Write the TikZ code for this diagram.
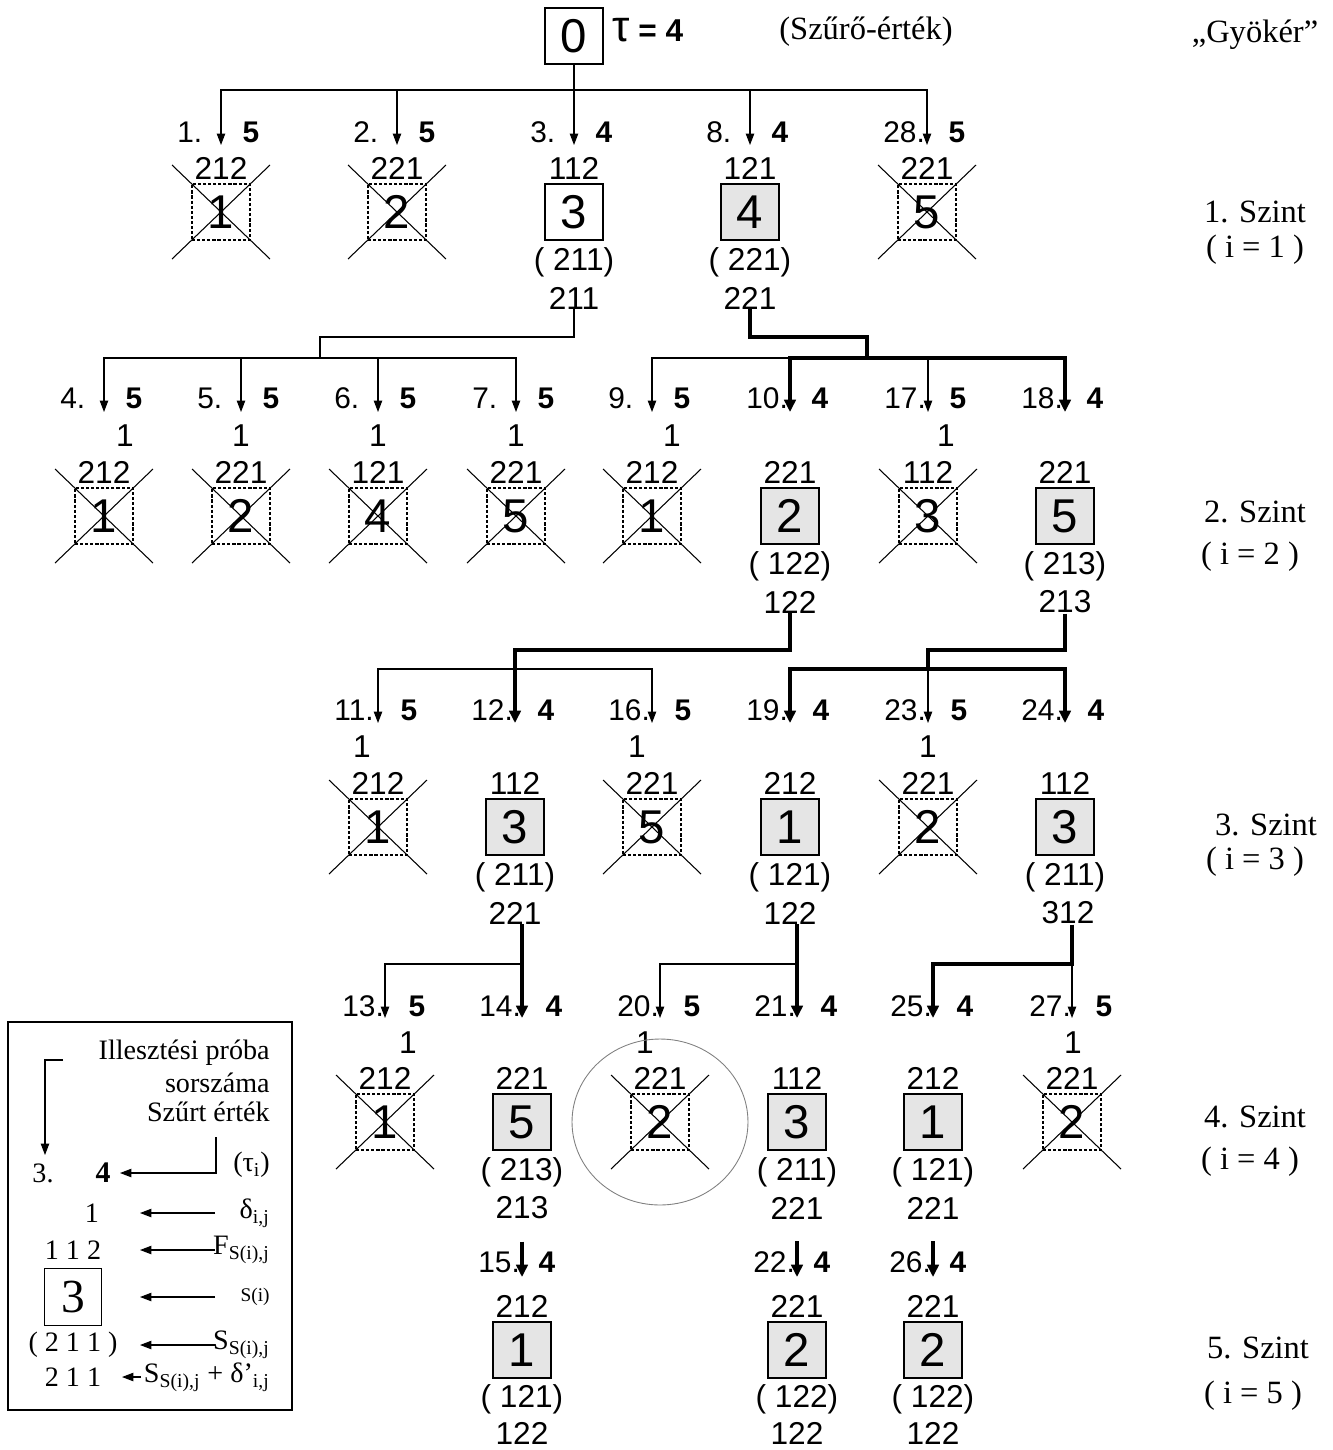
\documentclass[tikz,border=0pt]{standalone}
\usepackage{fontspec}
\setmainfont{Liberation Serif}
\setsansfont{Liberation Sans}
\usetikzlibrary{arrows.meta}

\begin{document}
\begin{tikzpicture}[
    x = 0.02cm, y = -0.02cm,
    box/.style = {draw, line width = 0.6pt, minimum width = 1.16cm, minimum height = 1.12cm, inner sep = 0pt, font = \sffamily\fontsize{27}{30}\selectfont},
    kept/.style = {box},
    best/.style = {box, fill = gray!20, line width = 1.6pt},
    cut/.style = {box, dash pattern = on 1.8pt off 1.1pt},
    num/.style = {anchor = west, inner sep = 0pt, font = \sffamily\fontsize{17}{19}\selectfont},
    val/.style = {inner sep = 0pt, font = \sffamily\bfseries\fontsize{17}{19}\selectfont},
    trip/.style = {inner sep = 0pt, font = \sffamily\fontsize{18}{20}\selectfont},
    lvl/.style = {inner sep = 0pt, font = \fontsize{18.5}{22}\selectfont},
    lgd/.style = {inner sep = 0pt, font = \fontsize{16}{18}\selectfont},
    arr/.style = {line width = 0.6pt, -{Triangle[length = 6.5pt, width = 4.8pt]}},
    hot/.style = {line width = 2.6pt, -{Triangle[length = 7pt, width = 6.5pt]}},
    ]
    \useasboundingbox (0,0) rectangle (1332,1450);

    \node[kept] (root) at (574,36) {0};
    \node[anchor = west, inner sep = 0pt, font = \sffamily\bfseries\fontsize{18}{20}\selectfont] (tau) at (612,30) {{\mdseries\fontsize{25}{26}\selectfont τ}\hspace{5pt}= 4};
    \node[lvl] (filt) at (866,32) {(Szűrő-érték)};
    \node[lvl] (gyok) at (1255,35) {„Gyökér”};

    \node[lvl] (s1) at (1255,212) {1. Szint};
    \node[lvl] (i1) at (1255,250) {( i = 1 )};
    \node[lvl] (s2) at (1255,512) {2. Szint};
    \node[lvl] (i2) at (1250,557) {( i = 2 )};
    \node[lvl] (s3) at (1266,825) {3. Szint};
    \node[lvl] (i3) at (1255,862) {( i = 3 )};
    \node[lvl] (s4) at (1255,1117) {4. Szint};
    \node[lvl] (i4) at (1250,1162) {( i = 4 )};
    \node[lvl] (s5) at (1258,1348) {5. Szint};
    \node[lvl] (i5) at (1253,1396) {( i = 5 )};

    \node[cut] (n1) at (221,212) {1};
    \node[trip] (n1f) at (221,168) {212};
    \node[num] (l1) at (177,132) {1.};
    \node[val] (v1) at (251,132) {5};
    \coordinate (t1) at (221,145);

    \node[cut] (n2) at (397,212) {2};
    \node[trip] (n2f) at (397,168) {221};
    \node[num] (l2) at (353,132) {2.};
    \node[val] (v2) at (427,132) {5};
    \coordinate (t2) at (397,145);

    \node[kept] (n3) at (574,212) {3};
    \node[trip] (n3f) at (574,168) {112};
    \node[trip] (n3s) at (574,262) {( 211)};
    \node[trip] (n3c) at (574,298) {211};
    \node[num] (l3) at (530,132) {3.};
    \node[val] (v3) at (604,132) {4};
    \coordinate (t3) at (574,145);

    \node[best] (n8) at (750,212) {4};
    \node[trip] (n8f) at (750,168) {121};
    \node[trip] (n8s) at (750,262) {( 221)};
    \node[trip] (n8c) at (750,298) {221};
    \node[num] (l8) at (706,132) {8.};
    \node[val] (v8) at (780,132) {4};
    \coordinate (t8) at (750,145);

    \node[cut] (n28) at (927,212) {5};
    \node[trip] (n28f) at (927,168) {221};
    \node[num] (l28) at (883,132) {28.};
    \node[val] (v28) at (957,132) {5};
    \coordinate (t28) at (927,145);

    \node[cut] (n4) at (104,516) {1};
    \node[trip] (n4f) at (104,472) {212};
    \node[trip] (d4) at (125,436) {1};
    \node[num] (l4) at (60,398) {4.};
    \node[val] (v4) at (134,398) {5};
    \coordinate (t4) at (104,412);

    \node[cut] (n5) at (241,516) {2};
    \node[trip] (n5f) at (241,472) {221};
    \node[trip] (d5) at (241,436) {1};
    \node[num] (l5) at (197,398) {5.};
    \node[val] (v5) at (271,398) {5};
    \coordinate (t5) at (241,412);

    \node[cut] (n6) at (378,516) {4};
    \node[trip] (n6f) at (378,472) {121};
    \node[trip] (d6) at (378,436) {1};
    \node[num] (l6) at (334,398) {6.};
    \node[val] (v6) at (408,398) {5};
    \coordinate (t6) at (378,412);

    \node[cut] (n7) at (516,516) {5};
    \node[trip] (n7f) at (516,472) {221};
    \node[trip] (d7) at (516,436) {1};
    \node[num] (l7) at (472,398) {7.};
    \node[val] (v7) at (546,398) {5};
    \coordinate (t7) at (516,412);

    \node[cut] (n9) at (652,516) {1};
    \node[trip] (n9f) at (652,472) {212};
    \node[trip] (d9) at (672,436) {1};
    \node[num] (l9) at (608,398) {9.};
    \node[val] (v9) at (682,398) {5};
    \coordinate (t9) at (652,412);

    \node[best] (n10) at (790,516) {2};
    \node[trip] (n10f) at (790,472) {221};
    \node[trip] (n10s) at (790,566) {( 122)};
    \node[trip] (n10c) at (790,602) {122};
    \node[num] (l10) at (746,398) {10.};
    \node[val] (v10) at (820,398) {4};
    \coordinate (t10) at (790,412);

    \node[cut] (n17) at (928,516) {3};
    \node[trip] (n17f) at (928,472) {112};
    \node[trip] (d17) at (946,436) {1};
    \node[num] (l17) at (884,398) {17.};
    \node[val] (v17) at (958,398) {5};
    \coordinate (t17) at (928,412);

    \node[best] (n18) at (1065,516) {5};
    \node[trip] (n18f) at (1065,472) {221};
    \node[trip] (n18s) at (1065,566) {( 213)};
    \node[trip] (n18c) at (1065,602) {213};
    \node[num] (l18) at (1021,398) {18.};
    \node[val] (v18) at (1095,398) {4};
    \coordinate (t18) at (1065,412);

    \node[cut] (n11) at (378,827) {1};
    \node[trip] (n11f) at (378,783) {212};
    \node[trip] (d11) at (362,747) {1};
    \node[num] (l11) at (334,710) {11.};
    \node[val] (v11) at (409,710) {5};
    \coordinate (t11) at (378,723);

    \node[best] (n12) at (515,827) {3};
    \node[trip] (n12f) at (515,783) {112};
    \node[trip] (n12s) at (515,877) {( 211)};
    \node[trip] (n12c) at (515,913) {221};
    \node[num] (l12) at (471,710) {12.};
    \node[val] (v12) at (546,710) {4};
    \coordinate (t12) at (515,723);

    \node[cut] (n16) at (652,827) {5};
    \node[trip] (n16f) at (652,783) {221};
    \node[trip] (d16) at (637,747) {1};
    \node[num] (l16) at (608,710) {16.};
    \node[val] (v16) at (683,710) {5};
    \coordinate (t16) at (652,723);

    \node[best] (n19) at (790,827) {1};
    \node[trip] (n19f) at (790,783) {212};
    \node[trip] (n19s) at (790,877) {( 121)};
    \node[trip] (n19c) at (790,913) {122};
    \node[num] (l19) at (746,710) {19.};
    \node[val] (v19) at (821,710) {4};
    \coordinate (t19) at (790,723);

    \node[cut] (n23) at (928,827) {2};
    \node[trip] (n23f) at (928,783) {221};
    \node[trip] (d23) at (928,747) {1};
    \node[num] (l23) at (884,710) {23.};
    \node[val] (v23) at (959,710) {5};
    \coordinate (t23) at (928,723);

    \node[best] (n24) at (1065,827) {3};
    \node[trip] (n24f) at (1065,783) {112};
    \node[trip] (n24s) at (1065,877) {( 211)};
    \node[trip] (n24c) at (1068,913) {312};
    \node[num] (l24) at (1021,710) {24.};
    \node[val] (v24) at (1096,710) {4};
    \coordinate (t24) at (1065,723);

    \node[cut] (n13) at (385,1122) {1};
    \node[trip] (n13f) at (385,1078) {212};
    \node[trip] (d13) at (408,1043) {1};
    \node[num] (l13) at (342,1006) {13.};
    \node[val] (v13) at (417,1006) {5};
    \coordinate (t13) at (385,1018);

    \node[best] (n14) at (522,1122) {5};
    \node[trip] (n14f) at (522,1078) {221};
    \node[trip] (n14s) at (522,1172) {( 213)};
    \node[trip] (n14c) at (522,1208) {213};
    \node[num] (l14) at (479,1006) {14.};
    \node[val] (v14) at (554,1006) {4};
    \coordinate (t14) at (522,1018);

    \node[cut] (n20) at (660,1122) {2};
    \node[trip] (n20f) at (660,1078) {221};
    \node[trip] (d20) at (645,1043) {1};
    \node[num] (l20) at (617,1006) {20.};
    \node[val] (v20) at (692,1006) {5};
    \coordinate (t20) at (660,1018);

    \node[best] (n21) at (797,1122) {3};
    \node[trip] (n21f) at (797,1078) {112};
    \node[trip] (n21s) at (797,1172) {( 211)};
    \node[trip] (n21c) at (797,1208) {221};
    \node[num] (l21) at (754,1006) {21.};
    \node[val] (v21) at (829,1006) {4};
    \coordinate (t21) at (797,1018);

    \node[best] (n25) at (933,1122) {1};
    \node[trip] (n25f) at (933,1078) {212};
    \node[trip] (n25s) at (933,1172) {( 121)};
    \node[trip] (n25c) at (933,1208) {221};
    \node[num] (l25) at (890,1006) {25.};
    \node[val] (v25) at (965,1006) {4};
    \coordinate (t25) at (933,1018);

    \node[cut] (n27) at (1072,1122) {2};
    \node[trip] (n27f) at (1072,1078) {221};
    \node[trip] (d27) at (1073,1043) {1};
    \node[num] (l27) at (1029,1006) {27.};
    \node[val] (v27) at (1104,1006) {5};
    \coordinate (t27) at (1072,1018);

    \node[best] (n15) at (522,1350) {1};
    \node[trip] (n15f) at (522,1306) {212};
    \node[trip] (n15s) at (522,1399) {( 121)};
    \node[trip] (n15c) at (522,1433) {122};
    \node[num] (l15) at (478,1262) {15.};
    \node[val] (v15) at (547,1262) {4};
    \coordinate (t15) at (522,1277);

    \node[best] (n22) at (797,1350) {2};
    \node[trip] (n22f) at (797,1306) {221};
    \node[trip] (n22s) at (797,1399) {( 122)};
    \node[trip] (n22c) at (797,1433) {122};
    \node[num] (l22) at (753,1262) {22.};
    \node[val] (v22) at (822,1262) {4};
    \coordinate (t22) at (797,1277);

    \node[best] (n26) at (933,1350) {2};
    \node[trip] (n26f) at (933,1306) {221};
    \node[trip] (n26s) at (933,1399) {( 122)};
    \node[trip] (n26c) at (933,1433) {122};
    \node[num] (l26) at (889,1262) {26.};
    \node[val] (v26) at (958,1262) {4};
    \coordinate (t26) at (933,1277);

    \draw[line width = 0.6pt] (n1.center) +(-49,-47) -- +(49,47) +(-49,47) -- +(49,-47);
    \draw[line width = 0.6pt] (n2.center) +(-49,-47) -- +(49,47) +(-49,47) -- +(49,-47);
    \draw[line width = 0.6pt] (n28.center) +(-49,-47) -- +(49,47) +(-49,47) -- +(49,-47);
    \draw[line width = 0.6pt] (n4.center) +(-49,-47) -- +(49,47) +(-49,47) -- +(49,-47);
    \draw[line width = 0.6pt] (n5.center) +(-49,-47) -- +(49,47) +(-49,47) -- +(49,-47);
    \draw[line width = 0.6pt] (n6.center) +(-49,-47) -- +(49,47) +(-49,47) -- +(49,-47);
    \draw[line width = 0.6pt] (n7.center) +(-49,-47) -- +(49,47) +(-49,47) -- +(49,-47);
    \draw[line width = 0.6pt] (n9.center) +(-49,-47) -- +(49,47) +(-49,47) -- +(49,-47);
    \draw[line width = 0.6pt] (n17.center) +(-49,-47) -- +(49,47) +(-49,47) -- +(49,-47);
    \draw[line width = 0.6pt] (n11.center) +(-49,-47) -- +(49,47) +(-49,47) -- +(49,-47);
    \draw[line width = 0.6pt] (n16.center) +(-49,-47) -- +(49,47) +(-49,47) -- +(49,-47);
    \draw[line width = 0.6pt] (n23.center) +(-49,-47) -- +(49,47) +(-49,47) -- +(49,-47);
    \draw[line width = 0.6pt] (n13.center) +(-49,-47) -- +(49,47) +(-49,47) -- +(49,-47);
    \draw[line width = 0.6pt] (n20.center) +(-49,-47) -- +(49,47) +(-49,47) -- +(49,-47);
    \draw[line width = 0.6pt] (n27.center) +(-49,-47) -- +(49,47) +(-49,47) -- +(49,-47);
    \draw[gray, line width = 0.5pt] (n20.center) ellipse [x radius = 1.76cm, y radius = 1.66cm];

    \draw[arr] (root.south) |- (221,90) -- (t1);
    \draw[arr] (root.south) |- (397,90) -- (t2);
    \draw[arr] (root.south) -- (t3);
    \draw[arr] (root.south) |- (750,90) -- (t8);
    \draw[arr] (root.south) |- (927,90) -- (t28);

    \draw[arr] (n3c.south) |- (320,337) -- (320,358) -| (t4);
    \draw[arr] (320,358) -| (t5);
    \draw[arr] (320,358) -| (t6);
    \draw[arr] (320,358) -| (t7);
    \draw[arr] (790,358) -| (t9);
    \draw[hot] (n8c.south) |- (867,337) -- (867,358) -| (t10);
    \draw[hot] (867,358) -| (t18);
    \draw[arr] (928,358) -- (t17);

    \draw[hot] (n10c.south) |- (515,650) -- (t12);
    \draw[arr] (515,669) -| (t11);
    \draw[arr] (515,669) -| (t16);
    \draw[hot] (n18c.south) |- (928,650) -- (928,669) -| (t19);
    \draw[hot] (928,669) -| (t24);
    \draw[arr] (928,669) -- (t23);

    \draw[hot] (t14 |- n12c.south) -- (t14);
    \draw[arr] (t14 |- 0,964) -| (t13);
    \draw[hot] (t21 |- n19c.south) -- (t21);
    \draw[arr] (t21 |- 0,964) -| (t20);
    \draw[hot] (t27 |- n24c.south) |- (933,964) -- (t25);
    \draw[arr] (t27 |- 0,964) -- (t27);

    \draw[hot] (n14c.south) ++(0,22) -- (t15);
    \draw[hot] (n21c.south) ++(0,22) -- (t22);
    \draw[hot] (n25c.south) ++(0,22) -- (t26);

    \draw[line width = 0.6pt] (8,1022) rectangle (292,1410);
    \node[lgd, anchor = east] (h1) at (270,1053) {Illesztési próba};
    \node[lgd, anchor = east] (h2) at (270,1083) {sorszáma};
    \node[lgd, anchor = east] (h3) at (270,1112) {Szűrt érték};
    \node[lgd, anchor = east] (h4) at (270,1165) {(τ\textsubscript{i})};
    \node[lgd, anchor = east] (h5) at (270,1213) {δ\textsubscript{i,j}};
    \node[lgd, anchor = east] (h6) at (270,1250) {F\textsubscript{S(i),j}};
    \node[lgd, anchor = east, font = \fontsize{11}{13}\selectfont] (h7) at (270,1297) {S(i)};
    \node[lgd, anchor = east] (h8) at (270,1345) {S\textsubscript{S(i),j}};
    \node[lgd, anchor = east] (h9) at (270,1377) {S\textsubscript{S(i),j} + δ'\textsubscript{i,j}};

    \node[lgd] (g3) at (43,1173) {3.};
    \node[lgd, font = \bfseries\fontsize{17}{19}\selectfont] (g4) at (103,1173) {4};
    \node[lgd] (gd) at (92,1213) {1};
    \node[lgd] (gf) at (73,1250) {1 1 2};
    \node[draw, line width = 0.6pt, minimum width = 1.14cm, minimum height = 1.14cm, inner sep = 0pt, font = \fontsize{27}{30}\selectfont] (gb) at (73,1297) {3};
    \node[lgd] (gs) at (73,1345) {( 2 1 1 )};
    \node[lgd] (gc) at (73,1377) {2 1 1};

    \coordinate (ga) at (63,1060);
    \coordinate (gat) at (45,1155);
    \coordinate (gb0) at (216,1137);
    \coordinate (gbt) at (120,1173);
    \coordinate (gd0) at (215,1213);
    \coordinate (gdt) at (140,1213);
    \coordinate (gf0) at (215,1250);
    \coordinate (gft) at (140,1250);
    \coordinate (gk0) at (215,1297);
    \coordinate (gkt) at (140,1297);
    \coordinate (gs0) at (215,1345);
    \coordinate (gst) at (140,1345);
    \coordinate (gc0) at (141,1377);
    \coordinate (gct) at (122,1377);
    \draw[arr] (ga) -| (gat);
    \draw[arr] (gb0) |- (gbt);
    \draw[arr] (gd0) -- (gdt);
    \draw[arr] (gf0) -- (gft);
    \draw[arr] (gk0) -- (gkt);
    \draw[arr] (gs0) -- (gst);
    \draw[arr] (gc0) -- (gct);
\end{tikzpicture}
\end{document}
